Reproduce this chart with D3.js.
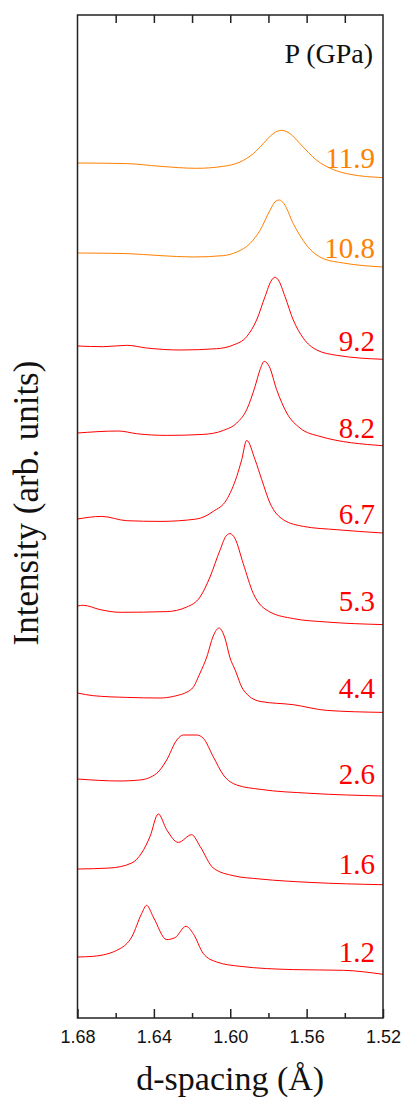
<html>

<head>
  <title>d-spacing vs pressure</title>
  <meta charset="utf-8">
</head>
<style>
  body { margin: 0; background: #fff; }
  .serif { font-family: "Liberation Serif", "Times New Roman", "DejaVu Serif", serif; }
  .sans { font-family: "Liberation Sans", Arial, sans-serif; }
</style>

<body>
  <div id="chart"></div>
</body>
<script src="https://d3js.org/d3.v7.min.js"></script>
<script>

  // pressures (GPa), top curve first
  const pressures = ["11.9", "10.8", "9.2", "8.2", "6.7", "5.3", "4.4", "2.6", "1.6", "1.2"]
  const colors = ["#ff8000", "#ff8000", "#ff0000", "#ff0000", "#ff0000", "#ff0000", "#ff0000", "#ff0000", "#ff0000", "#ff0000"]
  // vertical offset of each curve (arb. units)
  const offsets = [855, 765, 672, 585, 499, 412, 325, 239, 149, 61]

  // d-spacing (Å) and intensity above the curve's offset
  const d119 = [1.68, 1.6542, 1.6368, 1.6176, 1.6036, 1.5949, 1.5879, 1.5827, 1.5775, 1.5731, 1.5687, 1.5635, 1.5547, 1.5460, 1.5373, 1.52]
  const i119 = [0, -0.6, -3.3, -5.3, -3.3, 1, 9.4, 19.4, 29.4, 32.7, 29.4, 19.4, 2.7, -6.6, -11.3, -14.6]

  const d108 = [1.68, 1.6542, 1.6368, 1.6194, 1.6036, 1.5966, 1.5897, 1.5844, 1.5792, 1.5766, 1.5743, 1.5719, 1.5670, 1.5600, 1.5513, 1.5408, 1.52]
  const i108 = [0, -0.6, -2.6, -4, -2.6, 1, 9.4, 22.7, 42.7, 51, 53, 49.4, 29.4, 7.7, -5.6, -10, -14]

  const d92 = [1.68, 1.6665, 1.6542, 1.6438, 1.6263, 1.6071, 1.5984, 1.5914, 1.5862, 1.5818, 1.5783, 1.5766, 1.5748, 1.5713, 1.5670, 1.5617, 1.5547, 1.5442, 1.52]
  const i92 = [0, -0.7, 0.7, -2, -4, -2.7, 1, 9.3, 26, 49.3, 66, 68.7, 66, 49.3, 26, 7.7, -4, -9.3, -13.3]

  const d82 = [1.68, 1.6586, 1.6490, 1.6333, 1.6141, 1.6036, 1.5966, 1.5914, 1.5870, 1.5844, 1.5822, 1.5796, 1.5757, 1.5704, 1.5635, 1.5530, 1.52]
  const i82 = [0, 2, -0.7, -2.4, -1.4, 2.6, 10, 23.3, 46.6, 63.3, 71.6, 66.6, 43.3, 20, 5, -3.4, -12.7]

  const d67 = [1.68, 1.6673, 1.6542, 1.6368, 1.6176, 1.6089, 1.6019, 1.5966, 1.5940, 1.5914, 1.5870, 1.5835, 1.5792, 1.5722, 1.5617, 1.5442, 1.52]
  const i67 = [0, 2.6, -1.7, -2.4, 0, 7.6, 19.3, 42.6, 59.3, 78.6, 59.3, 39.3, 16, -0.7, -7.4, -10.7, -14]

  const d53 = [1.68, 1.6770, 1.6682, 1.6577, 1.6333, 1.6228, 1.6158, 1.6106, 1.6054, 1.6019, 1.6001, 1.5975, 1.5932, 1.5879, 1.5792, 1.5670, 1.5495, 1.52]
  const i53 = [0, 0.7, -3.6, -6.3, -5.6, -1, 9, 29, 55.7, 70.7, 72.4, 67.4, 42.4, 12.4, -6, -12.6, -16, -18.6]

  const d44 = [1.68, 1.6717, 1.6542, 1.6368, 1.6298, 1.6202, 1.6158, 1.6123, 1.6089, 1.6059, 1.6028, 1.6001, 1.5975, 1.5932, 1.5844, 1.5670, 1.5495, 1.52]
  const i44 = [0, -2.7, -4.4, -5, -3.4, 4, 20, 36, 57, 65, 55, 35, 23.3, 3.3, -8.4, -11.7, -17.4, -19.4]

  const d26 = [1.68, 1.6577, 1.6473, 1.6385, 1.6333, 1.6280, 1.6246, 1.6176, 1.6141, 1.6089, 1.6036, 1.5966, 1.5844, 1.5582, 1.52]
  const i26 = [0, -2, -1, 5.7, 19, 39, 44, 44, 40.7, 22.3, 4, -6, -10.3, -14.3, -17]

  const d16 = [1.68, 1.6630, 1.6516, 1.6464, 1.6420, 1.6377, 1.6333, 1.6272, 1.6202, 1.6158, 1.6089, 1.5984, 1.5844, 1.5582, 1.52]
  const i16 = [0, 1, 6, 16, 32.6, 55, 39.3, 26.6, 34.3, 22.6, 1, -6.7, -10, -13.4, -15.7]

  const d12 = [1.68, 1.6717, 1.6577, 1.6516, 1.6464, 1.6438, 1.6403, 1.6333, 1.6289, 1.6232, 1.6194, 1.6141, 1.6071, 1.5949, 1.5670, 1.5408, 1.52]
  const i12 = [0, 0.7, 8.4, 20, 43.4, 51.7, 40, 17.4, 19.4, 30.7, 23.4, 3.4, -5, -9.3, -12.6, -13.3, -17.3]

  const dSets = [d119, d108, d92, d82, d67, d53, d44, d26, d16, d12]
  const iSets = [i119, i108, i92, i82, i67, i53, i44, i26, i16, i12]

  const majorTicks = [1.68, 1.64, 1.60, 1.56, 1.52]
  const minorTicks = [1.66, 1.62, 1.58, 1.54]
  const topTicks = [1.66, 1.64, 1.62, 1.60, 1.58, 1.56, 1.54]

  let width = 405
  let height = 1101
  const margin = { top: 15, right: 22, bottom: 83, left: 77.5 }

  let x = d3.scaleLinear()
    .domain([1.68, 1.52])
    .range([margin.left, width - margin.right])

  let y = d3.scaleLinear()
    .domain([0, 1003])
    .range([height - margin.bottom, margin.top])

  let svg = d3.select("#chart")
    .append("svg")
    .attr("width", width)
    .attr("height", height)

  //curves
  let line = d3.line()
    .x(p => x(p[0]))
    .y(p => y(p[1]))
    .curve(d3.curveMonotoneX)

  let curves = svg.append("g").attr("class", "curves")
  pressures.forEach((p, k) => {
    const pts = dSets[k].map((d, j) => [d, iSets[k][j] + offsets[k]])
    curves.append("path")
      .attr("d", line(pts))
      .attr("fill", "none")
      .attr("stroke", colors[k])
      .attr("stroke-width", 1)
      .attr("stroke-linejoin", "round")

    svg.append("text")
      .attr("class", "serif")
      .attr("x", width - margin.right - 8)
      .attr("y", y(offsets[k]) + 5)
      .attr("text-anchor", "end")
      .style("font-size", "29px")
      .attr("fill", colors[k])
      .text(p)
  })

  //axes
  const bottom = height - margin.bottom
  let xAxis = svg.append("g")
    .attr("transform", `translate(0,${bottom})`)
    .call(d3.axisBottom(x).tickValues(majorTicks).tickSize(-9).tickPadding(12).tickFormat(d3.format(".2f")))
  xAxis.attr("font-family", null).attr("font-size", null)
  xAxis.select(".domain").remove()
  xAxis.selectAll("line").attr("stroke", "#222").attr("stroke-width", 1.5)
  xAxis.selectAll("text")
    .attr("class", "sans")
    .style("font-size", "18px")
    .attr("fill", "#111")

  let xMinor = svg.append("g")
    .attr("transform", `translate(0,${bottom})`)
    .call(d3.axisBottom(x).tickValues(minorTicks).tickSize(-5).tickFormat(""))
  xMinor.select(".domain").remove()
  xMinor.selectAll("line").attr("stroke", "#222").attr("stroke-width", 1.5)

  let xTop = svg.append("g")
    .attr("transform", `translate(0,${margin.top})`)
    .call(d3.axisTop(x).tickValues(topTicks).tickSize(-8).tickFormat(""))
  xTop.select(".domain").remove()
  xTop.selectAll("line").attr("stroke", "#222").attr("stroke-width", 1.5)

  svg.append("rect")
    .attr("x", margin.left)
    .attr("y", margin.top)
    .attr("width", width - margin.left - margin.right)
    .attr("height", height - margin.top - margin.bottom)
    .attr("fill", "none")
    .attr("stroke", "#222")
    .attr("stroke-width", 1.5)

  //labels
  svg.append("text")
    .attr("class", "serif")
    .attr("x", (margin.left + width - margin.right) / 2)
    .attr("y", 1090)
    .attr("text-anchor", "middle")
    .style("font-size", "34px")
    .attr("fill", "#111")
    .text("d-spacing (Å)")

  svg.append("text")
    .attr("class", "serif")
    .attr("transform", "translate(38,503) rotate(-90)")
    .attr("text-anchor", "middle")
    .style("font-size", "35px")
    .attr("fill", "#111")
    .text("Intensity (arb. units)")

  svg.append("text")
    .attr("class", "serif")
    .attr("x", 373)
    .attr("y", 63)
    .attr("text-anchor", "end")
    .style("font-size", "28px")
    .attr("fill", "#111")
    .text("P (GPa)")

</script>

</html>
